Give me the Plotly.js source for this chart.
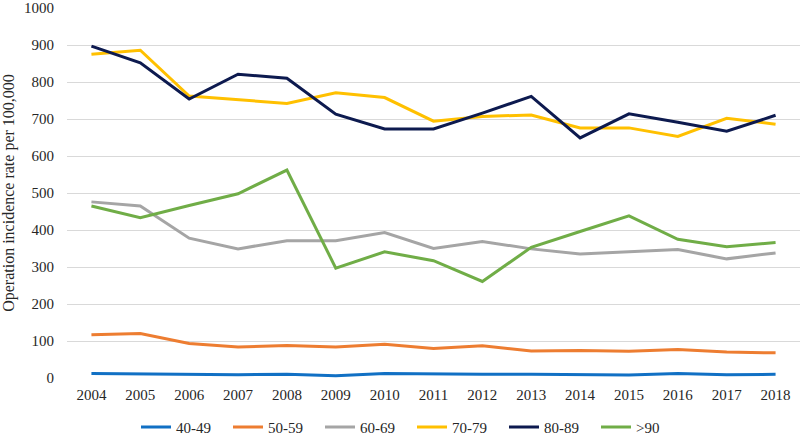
<!DOCTYPE html>
<html>
<head>
<meta charset="utf-8">
<script src="https://cdn.plot.ly/plotly-3.0.1.min.js"></script>
<style>html,body{margin:0;padding:0;background:#fff;}#chart{width:800px;height:436px;}</style>
</head>
<body>
<div id="chart"></div>
<script>
const years = ['2004','2005','2006','2007','2008','2009','2010','2011','2012','2013','2014','2015','2016','2017','2018'];
const seriesNames = ['40-49','50-59','60-69','70-79','80-89','>90'];
const s40 = [12, 11, 9, 9, 10, 6, 12, 10, 10, 10, 9, 8, 12, 9, 10];
const s50 = [117, 120, 93, 84, 88, 84, 91, 80, 87, 73, 74, 72, 77, 70, 68];
const s60 = [476, 465, 378, 349, 371, 371, 393, 350, 369, 349, 335, 340, 347, 322, 338];
const s70 = [875, 886, 762, 753, 742, 771, 758, 694, 707, 711, 676, 676, 653, 702, 686];
const s80 = [897, 852, 754, 821, 810, 713, 673, 673, 716, 761, 649, 714, 691, 667, 710];
const s90 = [465, 433, 466, 498, 562, 297, 341, 317, 261, 353, 396, 438, 375, 355, 366];
const colors = ['#1170C4','#ED7D31','#A5A5A5','#FFC000','#0D1A4F','#70AD47'];

const allSeries = [s40, s50, s60, s70, s80, s90];
const traces = allSeries.map((vals, i) => ({
  x: years, y: vals, name: seriesNames[i], type: 'scatter', mode: 'lines',
  line: {color: colors[i], width: 3}
}));

const FONT = 'Liberation Serif, Times New Roman, serif';
const layout = {
  width: 800, height: 436,
  margin: {l: 67, r: 0, t: 8, b: 58},
  paper_bgcolor: '#fff', plot_bgcolor: '#fff',
  font: {family: FONT, size: 15, color: '#262626'},
  showlegend: true,
  legend: {orientation: 'h', x: 0.515, xanchor: 'center', xref: 'container',
           y: 0.02, yanchor: 'middle', yref: 'container',
           font: {family: FONT, size: 15, color: '#262626'}, entrywidth: 47, entrywidthmode: 'pixels',
           traceorder: 'normal', itemwidth: 30},
  xaxis: {type: 'category', range: [-0.5, 14.5], showgrid: false, zeroline: false, showline: false, ticks: '',
          tickfont: {family: FONT, size: 15, color: '#262626'}, ticklabelstandoff: 6, automargin: false},
  yaxis: {range: [0, 1000], tickmode: 'linear', tick0: 0, dtick: 100, showgrid: true, gridcolor: '#d9d9d9', gridwidth: 1,
          zeroline: false, showline: false, ticks: '', tickfont: {family: FONT, size: 15, color: '#262626'},
          ticklabelstandoff: 12, automargin: false, ticklabeloverflow: 'allow',
          title: {text: 'Operation incidence rate per 100,000', font: {family: FONT, size: 16, color: '#262626'}, standoff: 8}}
};

Plotly.newPlot('chart', traces, layout, {displayModeBar: false, staticPlot: true});
</script>
</body>
</html>
